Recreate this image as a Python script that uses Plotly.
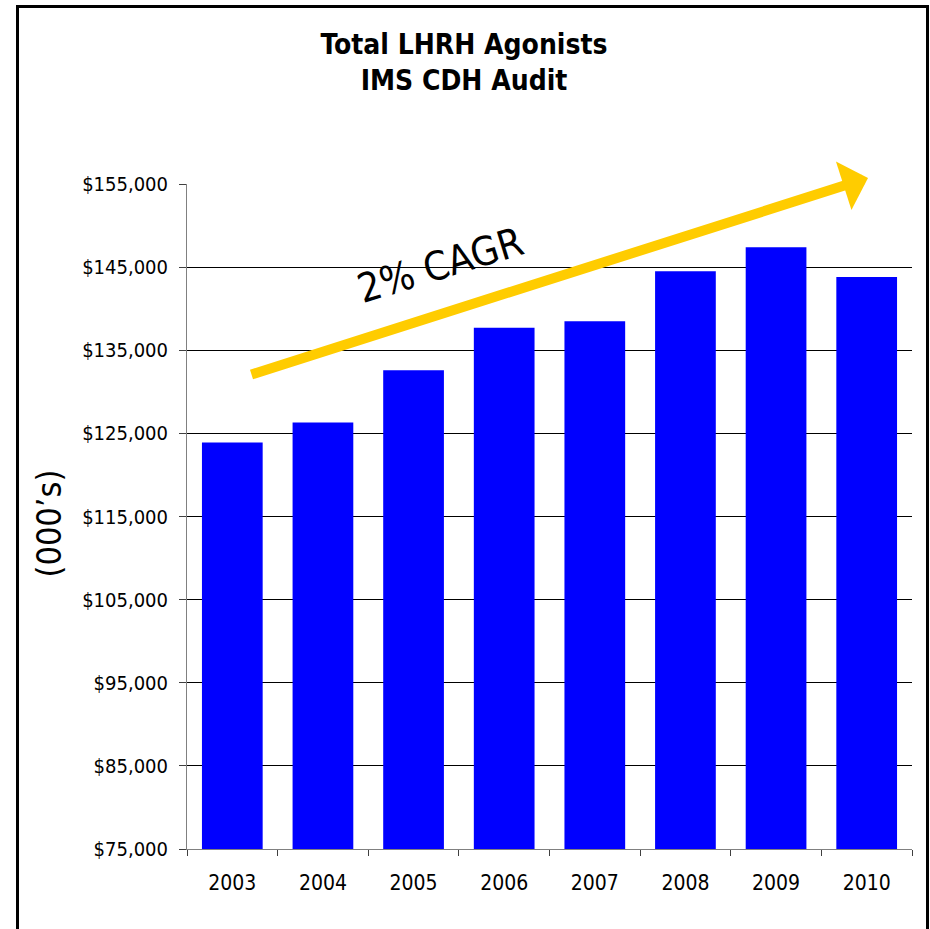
import plotly.graph_objects as go

years = ["2003", "2004", "2005", "2006", "2007", "2008", "2009", "2010"]
sales = [123900, 126300, 132600, 137700, 138500, 144500, 147400, 143800]
y_ticks = [75000, 85000, 95000, 105000, 115000, 125000, 135000, 145000, 155000]
y_ticklabels = ["$75,000", "$85,000", "$95,000", "$105,000", "$115,000",
                "$125,000", "$135,000", "$145,000", "$155,000"]

FONT = "DejaVu Sans Condensed, Liberation Sans Narrow, Noto Sans, sans-serif"

W, H = 930, 929
L, T = 187, 184
R = W - 912
B = H - 849
pw, ph = W - L - R, H - T - B

def px(x):  # screen x -> paper
    return (x - L) / pw

def py(y):  # screen y -> paper
    return (H - B - y) / ph

fig = go.Figure()
fig.add_trace(go.Bar(x=years, y=sales, marker=dict(color="#0000FF", line=dict(width=0)),
                     showlegend=False, hoverinfo="skip"))

fig.update_layout(
    width=W, height=H,
    margin=dict(l=L, r=R, t=T, b=B, pad=0),
    paper_bgcolor="white", plot_bgcolor="white",
    bargap=0.33,
    font=dict(family=FONT, color="black"),
    title=dict(text="<b>Total LHRH Agonists<br>IMS CDH Audit</b>",
               x=464 / W, xanchor="center", y=1 - 54 / H, yanchor="middle",
               font=dict(size=28, family=FONT, color="black")),
    xaxis=dict(type="category", showline=True, linecolor="#808080", linewidth=1,
               ticks="outside", tickson="boundaries", ticklen=6, tickcolor="#404040",
               ticklabelstandoff=15,
               showgrid=False, tickfont=dict(size=21, family=FONT)),
    yaxis=dict(range=[75000, 155000], tickvals=y_ticks, ticktext=y_ticklabels,
               showline=True, linecolor="#808080", linewidth=1,
               ticks="outside", ticklen=7, tickcolor="#404040",
               ticklabelstandoff=7,
               showgrid=True, gridcolor="black", gridwidth=1, zeroline=False,
               tickfont=dict(size=20, family=FONT)),
)

# y-axis title
fig.add_annotation(x=px(48.5), y=py(524), xref="paper", yref="paper",
                   xanchor="center", yanchor="middle", showarrow=False,
                   text="(000’s)", textangle=-90,
                   font=dict(size=34, family=FONT, color="black"))

# CAGR arrow
fig.add_annotation(x=px(868), y=py(178), xref="paper", yref="paper",
                   ax=250 - 868, ay=375 - 178, showarrow=True,
                   arrowhead=1, arrowsize=0.85, arrowwidth=10, arrowcolor="#FFCC00",
                   text="", standoff=0)
fig.add_annotation(x=px(440), y=py(265), xref="paper", yref="paper",
                   xanchor="center", yanchor="middle",
                   text="2% CAGR", showarrow=False, textangle=-17,
                   font=dict(size=40, family=FONT, color="black"))

# outer frame
fig.add_shape(type="rect", xref="paper", yref="paper",
              x0=px(17.5), x1=px(927.5), y0=py(960), y1=py(6.5),
              line=dict(color="black", width=3), layer="above")

fig.write_html("out.html",
               config=dict(displayModeBar=False),
               post_script="document.body.style.margin='0';"
                           "document.documentElement.style.overflow='hidden';")
